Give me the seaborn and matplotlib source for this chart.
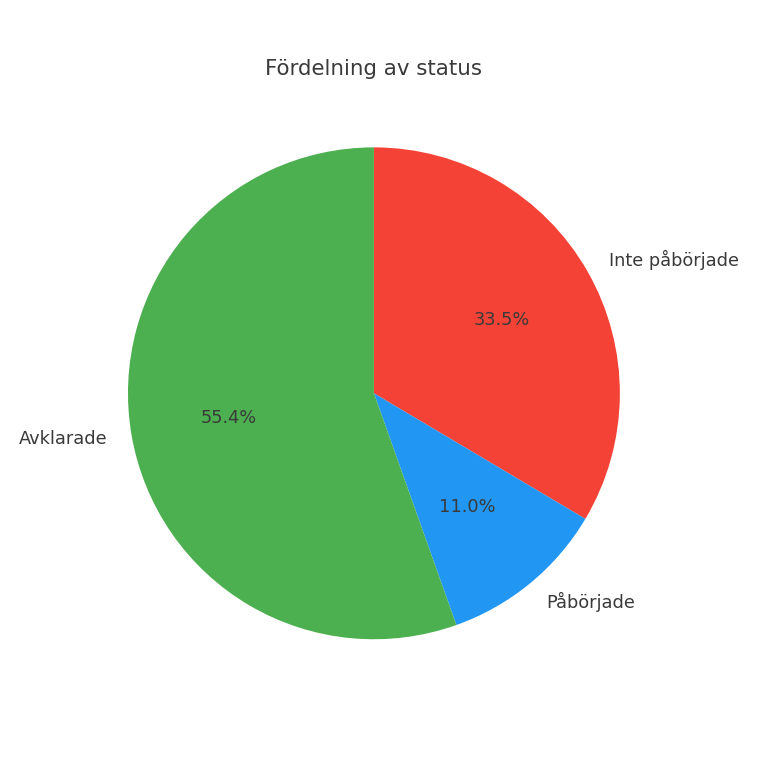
import matplotlib
matplotlib.use("Agg")
import matplotlib.pyplot as plt
import seaborn as sns

sns.set_theme(style="white")
plt.rcParams['font.family'] = ['DejaVu Sans']

labels = ["Inte påbörjade", "Påbörjade", "Avklarade"]
values = [33.53, 11.03, 55.44]
colors = ["#F44336", "#2196F3", "#4CAF50"]
title = "Fördelning av status"
text_color = "#3a3a3a"

fig = plt.figure(figsize=(7.6, 7.6), dpi=100)
ax = fig.add_axes([0.0875, 0.078, 0.809, 0.809])
wedges, texts, autotexts = ax.pie(values, labels=labels, colors=colors, startangle=90,
                                  counterclock=False, autopct="%1.1f%%",
                                  wedgeprops={"linewidth": 0, "edgecolor": "none"},
                                  textprops={"fontsize": 12.8, "color": text_color})
ax.set_title(title, fontsize=15.4, color=text_color, pad=8)
ax.set_aspect("equal")
fig.savefig("out.png", dpi=100)
